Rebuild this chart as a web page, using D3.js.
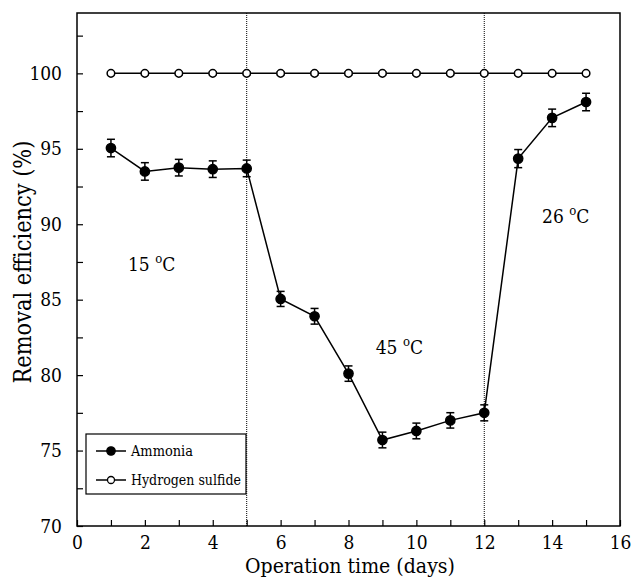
<!DOCTYPE html>
<html>
<head>
<meta charset="utf-8">
<script src="https://cdn.jsdelivr.net/npm/d3@7"></script>
<style>
  body { margin: 0; background: #fff; }
  svg text { fill: #000; font-family: "DejaVu Serif Condensed", "DejaVu Serif", serif; font-stretch: semi-condensed; }
</style>
</head>
<body>
<div id="chart"></div>
<script>
var width = 633;
var height = 578;

// data
var days = [1, 2, 3, 4, 5, 6, 7, 8, 9, 10, 11, 12, 13, 14, 15];
var ammonia = [95.05, 93.5, 93.75, 93.65, 93.7, 85.05, 83.9, 80.1, 75.7, 76.3, 77.0, 77.5, 94.35, 97.05, 98.1];
var ammoniaErr = [0.58, 0.58, 0.55, 0.55, 0.55, 0.5, 0.52, 0.51, 0.52, 0.52, 0.51, 0.53, 0.6, 0.58, 0.58];
var sulfide = [100, 100, 100, 100, 100, 100, 100, 100, 100, 100, 100, 100, 100, 100, 100];
var sulfideErr = [0.1, 0.1, 0.1, 0.1, 0.1, 0.1, 0.1, 0.1, 0.1, 0.1, 0.1, 0.1, 0.1, 0.1, 0.1];
var phaseBreaks = [5, 12];
var phaseLabels = [
  { t: "15", x: 2.2, y: 86.9 },
  { t: "45", x: 9.5, y: 81.4 },
  { t: "26", x: 14.4, y: 90.1 }
];
var xTickLabels = [0, 2, 4, 6, 8, 10, 12, 14, 16];
var yTickLabels = [70, 75, 80, 85, 90, 95, 100];

var margin = { left: 77, right: 13, top: 13, bottom: 52 };

var x = d3.scaleLinear().domain([0, 16]).range([margin.left, width - margin.right]);
var y = d3.scaleLinear().domain([70, 104]).range([height - margin.bottom, margin.top]);

var svg = d3.select("#chart").append("svg")
  .attr("width", width)
  .attr("height", height);

// shrink/grow a text so that it spans the width seen in the reference
function fitWidth(sel, target) {
  var fs = parseFloat(sel.attr("font-size"));
  var w = sel.node().getComputedTextLength();
  if (w > 0) sel.attr("font-size", (fs * target / w).toFixed(2));
}

// frame
svg.append("rect")
  .attr("x", x(0)).attr("y", y(104))
  .attr("width", x(16) - x(0)).attr("height", y(70) - y(104))
  .attr("fill", "none").attr("stroke", "#000").attr("stroke-width", 1.5);

// x axis ticks (inward)
svg.append("g")
  .attr("transform", `translate(0,${y(70)})`)
  .call(d3.axisTop(x).ticks(16).tickSize(6).tickFormat(""))
  .call(g => g.select(".domain").remove())
  .call(g => g.selectAll("line").attr("stroke-width", 1.2));

svg.append("g")
  .attr("transform", `translate(0,${y(70)})`)
  .call(d3.axisBottom(x).tickValues(xTickLabels).tickSize(0).tickPadding(10))
  .attr("font-family", null)
  .call(g => g.select(".domain").remove())
  .call(g => g.selectAll("text").attr("font-size", 19));

// y axis ticks (inward)
svg.append("g")
  .attr("transform", `translate(${x(0)},0)`)
  .call(d3.axisRight(y).tickValues(d3.range(70, 104, 2.5)).tickSize(6).tickFormat(""))
  .call(g => g.select(".domain").remove())
  .call(g => g.selectAll("line").attr("stroke-width", 1.2));

svg.append("g")
  .attr("transform", `translate(${x(0)},0)`)
  .call(d3.axisLeft(y).tickValues(yTickLabels).tickSize(0).tickPadding(15))
  .attr("font-family", null)
  .call(g => g.select(".domain").remove())
  .call(g => g.selectAll("text").attr("font-size", 19));

// axis titles
var xt = svg.append("text")
  .attr("x", 350)
  .attr("y", 573)
  .attr("text-anchor", "middle")
  .attr("font-size", 21)
  .text("Operation time (days)");
fitWidth(xt, 210);

var yt = svg.append("text")
  .attr("transform", "translate(31,262) rotate(-90)")
  .attr("text-anchor", "middle")
  .attr("font-size", 21)
  .text("Removal efficiency (%)");
fitWidth(yt, 243);

// phase break lines
svg.selectAll(".brk")
  .data(phaseBreaks)
  .join("line")
  .attr("x1", d => x(d)).attr("x2", d => x(d))
  .attr("y1", y(104)).attr("y2", y(70))
  .attr("stroke", "#000").attr("stroke-width", 1)
  .attr("stroke-dasharray", "1,1");

// phase labels
phaseLabels.forEach(p => {
  var t = svg.append("text")
    .attr("x", x(p.x)).attr("y", y(p.y))
    .attr("text-anchor", "middle")
    .attr("font-size", 19);
  t.append("tspan").text(p.t + " ");
  t.append("tspan").attr("font-size", 13).attr("dy", -8).text("o");
  t.append("tspan").attr("dy", 8).text("C");
});

function drawSeries(vals, errs, filled, r) {
  var pts = days.map((d, i) => ({ d: d, v: vals[i], e: errs[i] }));
  svg.append("path")
    .datum(pts)
    .attr("fill", "none").attr("stroke", "#000").attr("stroke-width", 1.5)
    .attr("d", d3.line().x(p => x(p.d)).y(p => y(p.v)));

  var eb = svg.append("g").selectAll("g").data(pts).join("g");
  eb.append("line")
    .attr("x1", p => x(p.d)).attr("x2", p => x(p.d))
    .attr("y1", p => y(p.v - p.e)).attr("y2", p => y(p.v + p.e))
    .attr("stroke", "#000").attr("stroke-width", 1.5);
  [-1, 1].forEach(s => {
    eb.append("line")
      .attr("x1", p => x(p.d) - 4).attr("x2", p => x(p.d) + 4)
      .attr("y1", p => y(p.v + s * p.e)).attr("y2", p => y(p.v + s * p.e))
      .attr("stroke", "#000").attr("stroke-width", 1.5);
  });

  svg.append("g").selectAll("circle").data(pts).join("circle")
    .attr("cx", p => x(p.d)).attr("cy", p => y(p.v)).attr("r", r)
    .attr("fill", filled ? "#000" : "#fff")
    .attr("stroke", "#000").attr("stroke-width", 1.5);
}

drawSeries(sulfide, sulfideErr, false, 3.8);
drawSeries(ammonia, ammoniaErr, true, 4.6);

// legend
var legend = svg.append("g").attr("transform", "translate(86,434)");
legend.append("rect")
  .attr("width", 160).attr("height", 60)
  .attr("fill", "#fff").attr("stroke", "#000").attr("stroke-width", 1.2);
var items = [{ name: "Ammonia", filled: true, r: 4.2, w: 62 }, { name: "Hydrogen sulfide", filled: false, r: 3.5, w: 110 }];
items.forEach((it, i) => {
  var g = legend.append("g").attr("transform", `translate(0,${17 + i * 29})`);
  g.append("line").attr("x1", 10).attr("x2", 40).attr("stroke", "#000").attr("stroke-width", 1.5);
  g.append("circle").attr("cx", 25).attr("r", it.r)
    .attr("fill", it.filled ? "#000" : "#fff").attr("stroke", "#000").attr("stroke-width", 1.3);
  var lt = g.append("text").attr("x", 45).attr("y", 5).attr("font-size", 16).text(it.name);
  fitWidth(lt, it.w);
});
</script>
</body>
</html>
